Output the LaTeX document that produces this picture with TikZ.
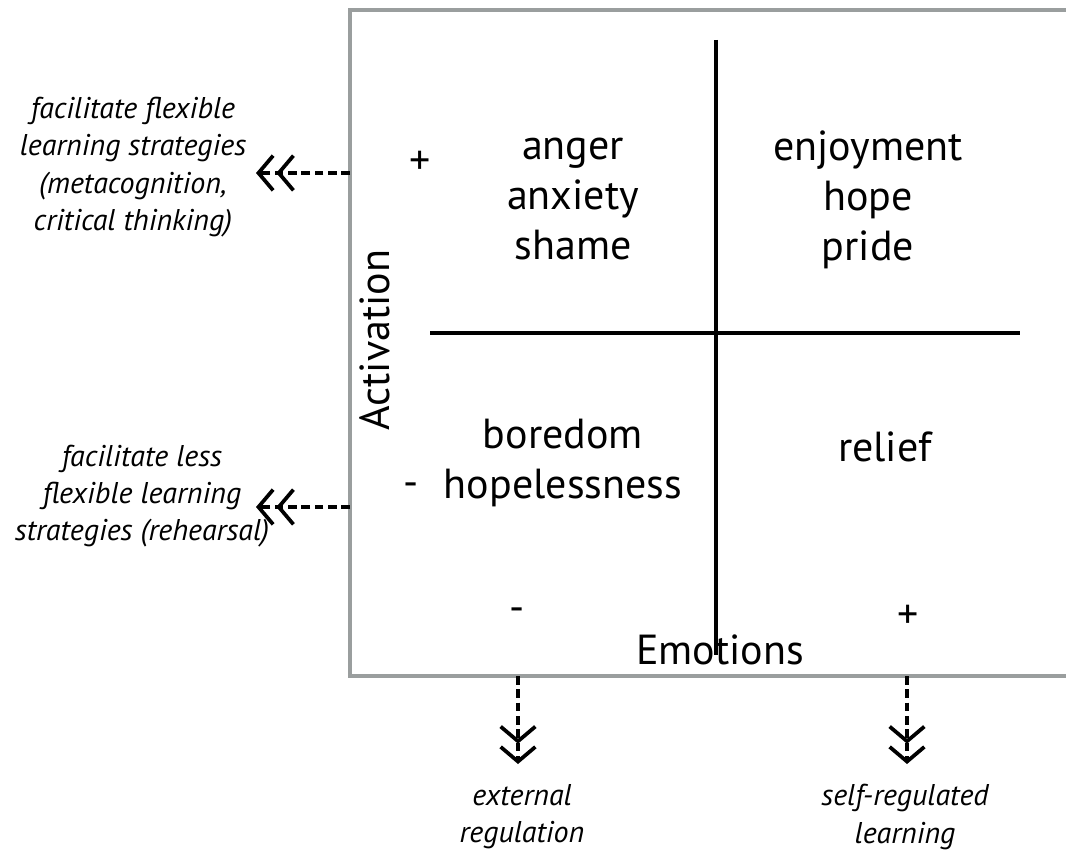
\documentclass[tikz,border=0pt]{standalone}
\usepackage{fontspec}
\setmainfont{PT Sans}
\usetikzlibrary{arrows.meta}
\definecolor{boxgray}{HTML}{9A9E9E}
\begin{document}
\begin{tikzpicture}[x=0.75pt,y=-0.75pt,
  big/.style={font=\fontsize{31.5}{37.5}\selectfont, align=center, inner sep=0pt},
  sm/.style={font=\fontsize{22.5}{28}\selectfont\itshape, align=center, inner sep=0pt},
  chev/.tip={Straight Barb[length=11pt,width=26pt,line width=2.8pt]},
  dasharrow/.style={line width=2.4pt, dash pattern=on 6.5pt off 3.5pt, -{chev[sep=1pt] chev}}
]
\useasboundingbox (0,0) rectangle (1066,852);
\fill[white] (0,0) rectangle (1066,852);
% outer box
\draw[boxgray, line width=2.5pt] (1080,10) -- (350,10) -- (350,676) -- (1080,676);
% axes
\coordinate (hL) at (430,333); \coordinate (hR) at (1020,333);
\coordinate (vT) at (716,40); \coordinate (vB) at (716,655);
\draw[line width=2.3pt] (hL) -- (hR);
\draw[line width=2.3pt] (vT) -- (vB);
% quadrant texts
\node[big] (q1) at (573,199) {anger\\anxiety\\shame};
\node[big] (q2) at (868,200) {enjoyment\\hope\\pride};
\node[big] (q3) at (563,463) {boredom\\hopelessness};
\node[big] (q4) at (885,447) {relief};
% axis labels
\node[big, rotate=90] (act) at (375,340) {Activation};
\node[big] (emo) at (720,650) {Emotions};
\node[big] (p1) at (420,163) {+};
\node[big] (m1) at (411,490) {-};
\node[big] (m2) at (517,615) {-};
\node[big] (p2) at (908,617) {+};
% side labels
\node[sm] (l1) at (133,167) {facilitate flexible\\learning strategies\\(metacognition,\\critical thinking)};
\node[sm] (l2) at (142,496) {facilitate less\\flexible learning\\strategies (rehearsal)};
\node[sm] (b1) at (522,817) {external\\regulation};
\node[sm] (b2) at (905,817) {self-regulated\\learning};
% arrows
\coordinate (a1s) at (350,173); \coordinate (a1e) at (256,173);
\coordinate (a2s) at (350,507); \coordinate (a2e) at (256,507);
\coordinate (a3s) at (518,676); \coordinate (a3e) at (518,764);
\coordinate (a4s) at (907,676); \coordinate (a4e) at (907,764);
\draw[dasharrow] (a1s) -- (a1e);
\draw[dasharrow] (a2s) -- (a2e);
\draw[dasharrow] (a3s) -- (a3e);
\draw[dasharrow] (a4s) -- (a4e);
\end{tikzpicture}
\end{document}
